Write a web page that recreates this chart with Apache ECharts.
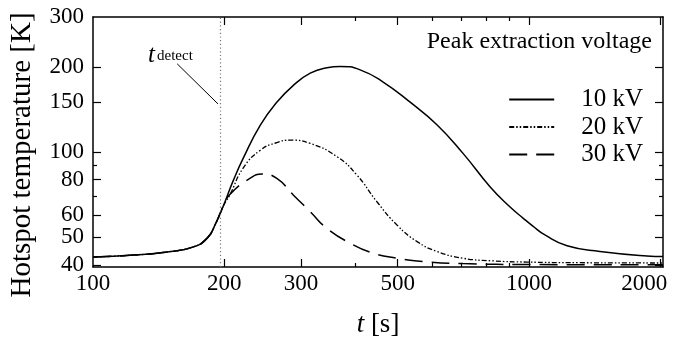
<!DOCTYPE html>
<html><head><meta charset="utf-8">
<script src="https://cdn.jsdelivr.net/npm/echarts@6/dist/echarts.min.js"></script>
<style>html,body{margin:0;padding:0;background:#fff}#c{width:673px;height:345px}</style>
</head><body><div id="c"></div>
<script>
const seriesNames = ['10 kV', '20 kV', '30 kV'];
const time10 = [100, 124, 148, 170, 183, 191, 199, 209.5, 221, 242, 264, 288, 315, 344, 369, 410, 463, 533, 615, 706, 814, 904, 969, 1021, 1088, 1223, 1455, 1865, 2030];
const temp10 = [42.6, 43.3, 44.4, 46.3, 49.8, 55.8, 64.5, 79, 95, 124.5, 150, 172, 190, 198.7, 200.8, 195.2, 176.8, 150.4, 125, 99, 75.5, 64.1, 58.5, 54.8, 51, 46.7, 44.6, 43.0, 42.8];
const time20 = [100, 124, 148, 170, 183, 191, 199, 206, 221, 242, 264, 283, 315, 363, 403, 448, 498, 554, 615, 706, 826, 990, 1300, 2030];
const temp20 = [42.6, 43.3, 44.4, 46.3, 49.8, 55.8, 64.5, 70.6, 87.8, 101.6, 108.1, 110.2, 107.3, 96.3, 83, 66.8, 55.3, 48.3, 44.6, 42.2, 41.3, 40.9, 40.7, 40.6];
const time30 = [100, 124, 148, 170, 183, 191, 199, 206, 229, 244, 264, 288, 315, 344, 389, 439, 498, 571, 706, 1000, 2030];
const temp30 = [42.6, 43.3, 44.4, 46.3, 49.8, 55.8, 64.5, 70.8, 80.8, 83.7, 80.8, 70.6, 61.6, 53.8, 47.7, 44, 42.2, 41.1, 40.4, 40.1, 40.0];
const xLabelValues = [100, 200, 300, 500, 1000, 2000];
const xMajorTicks = [200, 300, 500, 1000, 2000];
const xMinorTicks = [400, 600, 700, 800, 900];
const yLabelValues = [40, 50, 60, 80, 100, 150, 200, 300];
const yMajorTicks = [40, 50, 60, 80, 100, 150, 200];
const yMinorTicks = [70, 90];
const tDetect = 195.6;
const leaderTime = [156, 193.5];
const leaderTemp = [205, 148];

const FONT = 'Liberation Serif';
const xMin = 100, xMax = 2030, yMin = 39.3, yMax = 300;

function zip(a, b) { return a.map((v, i) => [v, b[i]]); }
const fmtY = v => String(Math.round(v));
const fmtX = v => { const r = Math.round(v); return r === 2000 ? '{r|2000}' : String(r); };

function xAx(pos, ticks, len, labels, line) {
  return {
    type: 'log', logBase: 10, min: xMin, max: xMax, position: pos,
    axisLine: { show: line, onZero: false, lineStyle: { color: '#000', width: 1.5 } },
    axisTick: { show: true, inside: true, length: len, customValues: ticks, lineStyle: { color: '#000', width: 1.2 } },
    axisLabel: labels ? { show: true, customValues: labels, formatter: fmtX, hideOverlap: false, color: '#000', fontFamily: FONT, fontSize: 23, margin: 5,
      rich: { r: { padding: [0, 32, 0, 0], color: '#000', fontFamily: FONT, fontSize: 23 } } } : { show: false },
    splitLine: { show: false }, minorTick: { show: false }
  };
}
function yAx(pos, ticks, len, labels, line) {
  return {
    type: 'log', logBase: 10, min: yMin, max: yMax, position: pos,
    axisLine: { show: line, onZero: false, lineStyle: { color: '#000', width: 1.5 } },
    axisTick: { show: true, inside: true, length: len, customValues: ticks, lineStyle: { color: '#000', width: 1.2 } },
    axisLabel: labels ? { show: true, customValues: labels, formatter: fmtY, hideOverlap: false, color: '#000', fontFamily: FONT, fontSize: 23, margin: 9 } : { show: false },
    splitLine: { show: false }, minorTick: { show: false }
  };
}

const xAxes = [
  xAx('bottom', xMajorTicks, 8, xLabelValues, true),
  xAx('bottom', xMinorTicks, 4, null, false),
  xAx('top', xMajorTicks, 8, null, true),
  xAx('top', xMinorTicks, 4, null, false)
];
xAxes[0].name = '{i|t} [s]';
xAxes[0].nameLocation = 'middle';
xAxes[0].nameGap = 44;
xAxes[0].nameTextStyle = { color: '#000', fontFamily: FONT, fontSize: 27, rich: { i: { fontStyle: 'italic', fontFamily: FONT, fontSize: 27, color: '#000' } } };

const yAxes = [
  yAx('left', yMajorTicks, 8, yLabelValues, true),
  yAx('left', yMinorTicks, 4, null, false),
  yAx('right', yMajorTicks, 8, null, true),
  yAx('right', yMinorTicks, 4, null, false)
];

const chart = echarts.init(document.getElementById('c'), null, { renderer: 'canvas' });
chart.setOption({
  animation: false,
  backgroundColor: '#fff',
  grid: { left: 93, right: 10, top: 17, bottom: 78, containLabel: false, outerBoundsMode: 'none' },
  title: {
    text: 'Peak extraction voltage', right: 16, top: 25,
    textStyle: { color: '#000', fontFamily: FONT, fontSize: 24, fontWeight: 'normal' }
  },
  legend: {
    orient: 'vertical', right: 25, top: 82, itemWidth: 45, itemHeight: 14, itemGap: 2.5,
    data: seriesNames,
    itemStyle: { opacity: 0 },
    textStyle: { color: '#000', fontFamily: FONT, fontSize: 25, padding: [0, 0, 0, 22], lineHeight: 24 }
  },
  xAxis: xAxes,
  yAxis: yAxes,
  graphic: [
    { type: 'text', x: 22, y: 155, rotation: Math.PI / 2, style: { text: 'Hotspot temperature [K]', font: '29px "Liberation Serif"', fill: '#000', align: 'center', verticalAlign: 'middle' } },
    { type: 'text', left: 148, top: 43, style: { text: 't', font: 'italic 25px "Liberation Serif"', fill: '#000' } },
    { type: 'text', left: 157, top: 49, style: { text: 'detect', font: '15px "Liberation Serif"', fill: '#000' } }
  ],
  series: [
    {
      name: seriesNames[0], type: 'line', xAxisIndex: 0, yAxisIndex: 0,
      data: zip(time10, temp10), symbol: 'none', smooth: 0.5,
      lineStyle: { color: '#000', width: 1.5, type: 'solid' }, itemStyle: { color: '#000' },
      markLine: {
        silent: true, symbol: 'none', animation: false,
        label: { show: false },
        data: [
          [{ coord: [tDetect, yMin], lineStyle: { color: '#777', width: 1.2, type: [1.2, 2.5] } }, { coord: [tDetect, yMax] }],
          [{ coord: [leaderTime[0], leaderTemp[0]], lineStyle: { color: '#000', width: 1, type: 'solid' } }, { coord: [leaderTime[1], leaderTemp[1]] }]
        ]
      }
    },
    {
      name: seriesNames[1], type: 'line', xAxisIndex: 0, yAxisIndex: 0,
      data: zip(time20, temp20), symbol: 'none', smooth: 0.5,
      lineStyle: { color: '#000', width: 1.3, type: [5, 2, 1.5, 2, 1.5, 2] }, itemStyle: { color: '#000' }
    },
    {
      name: seriesNames[2], type: 'line', xAxisIndex: 0, yAxisIndex: 0,
      data: zip(time30, temp30), symbol: 'none', smooth: 0.5,
      lineStyle: { color: '#000', width: 1.5, type: [18, 9] }, itemStyle: { color: '#000' }
    }
  ]
});
</script>
</body></html>
